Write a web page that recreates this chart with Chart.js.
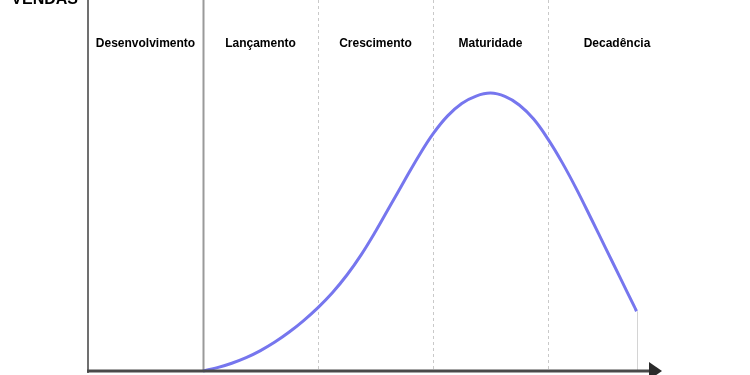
<!DOCTYPE html>
<html>
<head>
<meta charset="utf-8">
<title>Ciclo de vida do produto</title>
<script src="https://cdn.jsdelivr.net/npm/chart.js@4.4.1/dist/chart.umd.min.js"></script>
<style>
  html, body { margin: 0; padding: 0; background: #fff; }
  #wrap { width: 750px; height: 375px; }
</style>
</head>
<body>
<div id="wrap"><canvas id="myChart" width="750" height="375"></canvas></div>
<script>
// fases do ciclo de vida
const phases = ["Desenvolvimento", "Lançamento", "Crescimento", "Maturidade", "Decadência"];
const phaseEdges = [0, 1, 2, 3, 4, 5.2];

// curva de vendas
const salesX = [1, 1.125, 1.25, 1.375, 1.5, 1.625, 1.75, 1.875,
                2, 2.125, 2.25, 2.375, 2.5, 2.625, 2.75, 2.875,
                3, 3.125, 3.25, 3.375, 3.5, 3.625, 3.75, 3.875,
                4, 4.125, 4.25, 4.375, 4.5, 4.625, 4.75, 4.77];
const salesY = [0, 0.9, 2.1, 3.6, 5.5, 7.8, 10.5, 13.6,
                17.1, 21.1, 25.8, 31.3, 37.6, 44.4, 51.2, 57.9,
                63.9, 68.7, 72.1, 74.1, 74.9, 74.0, 71.7, 67.9,
                62.5, 56.1, 48.9, 41.1, 33.2, 25.3, 17.4, 16.1];

const yTitle = "VENDAS";

const points = salesX.map((x, i) => ({ x: x, y: salesY[i] }));

const lifecyclePlugin = {
  id: "lifecycle",
  beforeDatasetsDraw(chart) {
    const { ctx, chartArea, scales } = chart;
    const xs = scales.x, ys = scales.y;
    const bottom = ys.getPixelForValue(0);
    ctx.save();

    // divisórias das fases
    for (let i = 1; i < phaseEdges.length - 1; i++) {
      const px = Math.round(xs.getPixelForValue(phaseEdges[i])) + 0.5;
      ctx.beginPath();
      if (i === 1) {
        ctx.strokeStyle = "#9a9a9a";
        ctx.lineWidth = 2;
        ctx.setLineDash([]);
      } else {
        ctx.strokeStyle = "#c9c9c9";
        ctx.lineWidth = 1;
        ctx.setLineDash([3, 3]);
      }
      ctx.moveTo(px, chartArea.top);
      ctx.lineTo(px, bottom);
      ctx.stroke();
    }
    ctx.setLineDash([]);

    // linha fina no fim da curva
    const last = salesX.length - 1;
    const ex = Math.round(xs.getPixelForValue(salesX[last])) + 0.5;
    ctx.strokeStyle = "#d4d4d4";
    ctx.lineWidth = 1;
    ctx.beginPath();
    ctx.moveTo(ex, ys.getPixelForValue(salesY[last]));
    ctx.lineTo(ex, bottom);
    ctx.stroke();

    // nomes das fases
    ctx.fillStyle = "#000";
    ctx.font = "bold 12px 'Liberation Sans', Arial, sans-serif";
    ctx.textAlign = "center";
    ctx.textBaseline = "middle";
    for (let i = 0; i < phases.length; i++) {
      const mid = (phaseEdges[i] + phaseEdges[i + 1]) / 2;
      ctx.fillText(phases[i], xs.getPixelForValue(mid), 44);
    }

    // título do eixo y (cortado no topo)
    ctx.font = "bold 16px 'Liberation Sans', Arial, sans-serif";
    ctx.textAlign = "right";
    ctx.textBaseline = "alphabetic";
    ctx.fillText(yTitle, 78, 4);
    ctx.restore();
  },
  afterDatasetsDraw(chart) {
    const { ctx, chartArea, scales } = chart;
    const left = scales.x.getPixelForValue(0);
    const bottom = scales.y.getPixelForValue(0);
    ctx.save();

    // eixo y
    ctx.strokeStyle = "#707070";
    ctx.lineWidth = 2;
    ctx.beginPath();
    ctx.moveTo(left, 0);
    ctx.lineTo(left, bottom + 2);
    ctx.stroke();

    // eixo x com seta
    const tip = chartArea.right - 1;
    ctx.strokeStyle = "#4a4a4a";
    ctx.lineWidth = 3;
    ctx.beginPath();
    ctx.moveTo(left - 1, bottom);
    ctx.lineTo(tip - 10, bottom);
    ctx.stroke();
    ctx.fillStyle = "#2a2a2a";
    ctx.beginPath();
    ctx.moveTo(tip - 13, bottom - 9);
    ctx.lineTo(tip, bottom);
    ctx.lineTo(tip - 13, bottom + 9);
    ctx.closePath();
    ctx.fill();
    ctx.restore();
  }
};

const data = {
  datasets: [{
    label: "Vendas",
    data: points,
    borderColor: "rgb(118, 118, 238)",
    borderWidth: 3,
    pointRadius: 0,
    tension: 0.4,
    fill: false,
    clip: false
  }]
};

const config = {
  type: "line",
  data: data,
  options: {
    responsive: false,
    animation: false,
    layout: { padding: { left: 88, right: 87, top: 0, bottom: 4 } },
    plugins: { legend: { display: false }, tooltip: { enabled: false } },
    scales: {
      x: { type: "linear", min: 0, max: 5, display: false },
      y: { min: 0, max: 100, display: false }
    }
  },
  plugins: [lifecyclePlugin]
};

const myChart = new Chart(document.getElementById("myChart"), config);
</script>
</body>
</html>
